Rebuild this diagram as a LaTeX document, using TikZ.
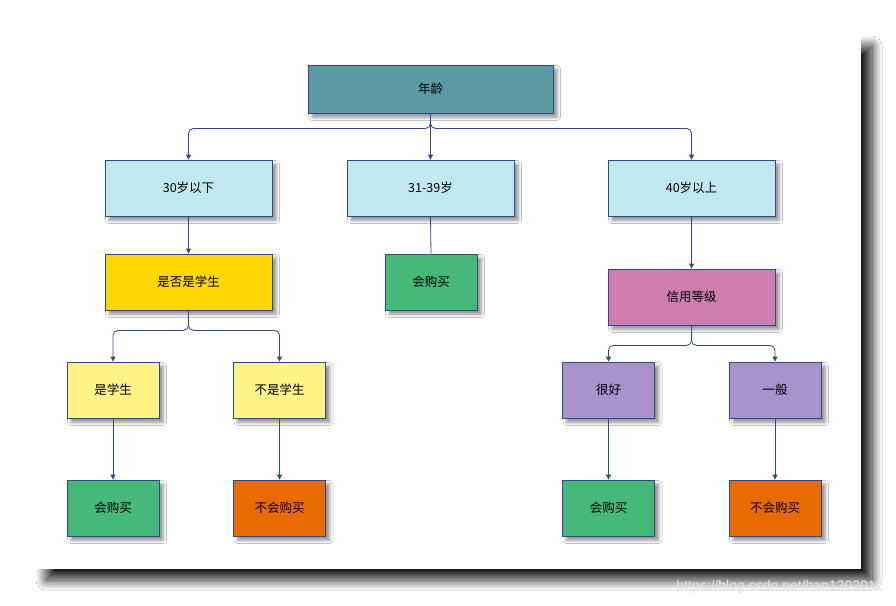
\documentclass[tikz,border=0pt]{standalone}
\usepackage{fontspec}
\setmainfont{Noto Sans CJK SC}
\newfontfamily\markfont{Liberation Sans}
\usetikzlibrary{arrows.meta,shadows.blur}
\definecolor{lineblue}{HTML}{2F4A8A}
\definecolor{tealbox}{HTML}{5B9AA3}
\definecolor{skybox}{HTML}{C0E8EF}
\definecolor{goldbox}{HTML}{FFD700}
\definecolor{greenbox}{HTML}{44B97A}
\definecolor{pinkbox}{HTML}{CD7DAE}
\definecolor{lemonbox}{HTML}{FFF385}
\definecolor{lilacbox}{HTML}{A991CC}
\definecolor{orangebox}{HTML}{EA6A00}

\begin{document}
\begin{tikzpicture}[
  x=1pt,y=-1pt,
  box/.style={draw=lineblue,line width=0.8pt,inner sep=2pt,minimum height=56pt,
    font=\fontsize{12.5}{14}\selectfont,
    blur shadow={shadow xshift=4pt,shadow yshift=-4pt,shadow blur radius=3.5pt,shadow opacity=45}},
  wide/.style={box,minimum width=167pt},
  narrow/.style={box,minimum width=92pt},
  link/.style={draw=lineblue,line width=0.8pt,rounded corners=5pt,-{Triangle[length=5pt,width=5pt]}},
  plain/.style={draw=lineblue,line width=0.8pt}
]
  \useasboundingbox (0,0) rectangle (896,605);
  \fill[white] (0,0) rectangle (896,605);
  % page with shadow
  \fill[white,blur shadow={shadow xshift=11pt,shadow yshift=-11pt,shadow blur radius=10pt,shadow blur steps=20,shadow opacity=90}]
    (35,35) rectangle (861,569);

  % level 0
  \node[box,minimum width=245pt,minimum height=48pt,fill=tealbox] (age) at (430.5,89) {年龄};
  % level 1
  \node[wide,fill=skybox] (young) at (188.5,188) {30岁以下};
  \node[wide,fill=skybox] (middle) at (430.5,188) {31-39岁};
  \node[wide,fill=skybox] (senior) at (691.5,188) {40岁以上};
  % level 2
  \node[wide,fill=goldbox] (student) at (188.5,282) {是否是学生};
  \node[narrow,fill=greenbox] (buymid) at (431,282) {会购买};
  \node[wide,fill=pinkbox] (credit) at (691.5,297) {信用等级};
  % level 3
  \node[narrow,fill=lemonbox] (isstu) at (113,390) {是学生};
  \node[narrow,fill=lemonbox] (notstu) at (279.5,390) {不是学生};
  \node[narrow,fill=lilacbox] (good) at (608.5,390) {很好};
  \node[narrow,fill=lilacbox] (fair) at (775,390) {一般};
  % level 4
  \node[narrow,fill=greenbox] (buyone) at (113,508) {会购买};
  \node[narrow,fill=orangebox] (noone) at (279.5,508) {不会购买};
  \node[narrow,fill=greenbox] (buytwo) at (608.5,508) {会购买};
  \node[narrow,fill=orangebox] (notwo) at (775,508) {不会购买};

  % connectors
  \draw[link] (age.south) -- ++(0,15) -| (young.north);
  \draw[link] (age.south) -- (middle.north);
  \draw[link] (age.south) -- ++(0,15) -| (senior.north);
  \draw[link] (young.south) -- (student.north);
  \draw[plain] (middle.south) -- (buymid.north);
  \draw[link] (senior.south) -- (credit.north);
  \draw[link] (student.south) -- ++(0,20) -| (isstu.north);
  \draw[link] (student.south) -- ++(0,20) -| (notstu.north);
  \draw[link] (credit.south) -- ++(0,20) -| (good.north);
  \draw[link] (credit.south) -- ++(0,20) -| (fair.north);
  \draw[link] (isstu.south) -- (buyone.north);
  \draw[link] (notstu.south) -- (noone.north);
  \draw[link] (good.south) -- (buytwo.north);
  \draw[link] (fair.south) -- (notwo.north);

  % watermark
  \node[text=gray!20,font=\markfont\fontsize{14}{16}\selectfont,anchor=east] (mark) at (887,587) {https://blog.csdn.net/han1202012};
\end{tikzpicture}
\end{document}
